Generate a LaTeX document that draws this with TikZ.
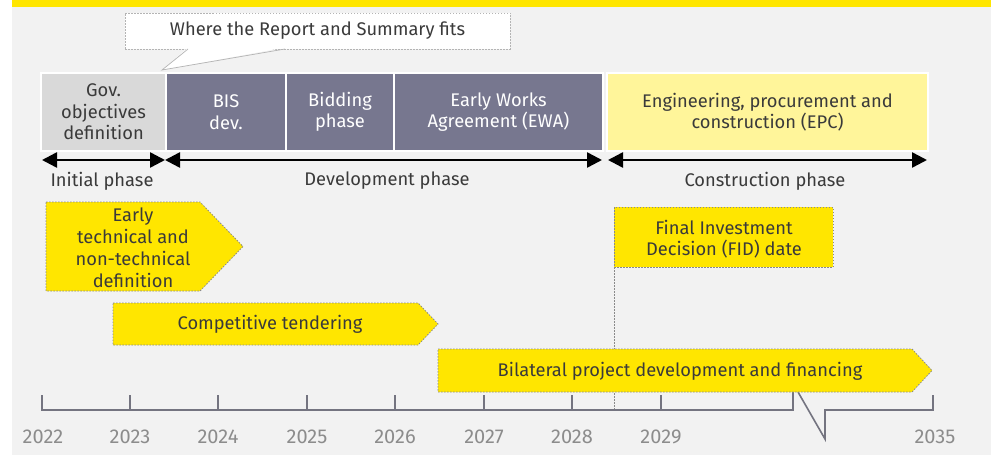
\documentclass[tikz,border=0pt]{standalone}
\usepackage{fontspec}
\setmainfont{Fira Sans}
\usetikzlibrary{arrows.meta}
\definecolor{eyyellow}{HTML}{FFE600}
\definecolor{bgcol}{HTML}{F2F2F2}
\definecolor{slate}{HTML}{77778F}
\definecolor{lightgov}{HTML}{D9D9D9}
\definecolor{epcyellow}{HTML}{FFF59A}
\definecolor{txtdark}{HTML}{3A3A3A}
\definecolor{axiscol}{HTML}{747480}
\definecolor{yearcol}{HTML}{8C8C8C}
\definecolor{dashcol}{HTML}{8A8A8A}
\definecolor{callgray}{HTML}{B4B4B4}
\begin{document}
\begin{tikzpicture}[x=1pt,y=-1pt,
  every node/.style={font=\fontsize{18.3}{21.5}\selectfont, text=txtdark, align=center, inner sep=0pt, outer sep=0pt},
  topbox/.style={anchor=north west, draw=white, line width=2pt, minimum height=78pt},
  ybox/.style={fill=eyyellow, draw=dashcol, line width=0.8pt, dash pattern=on 1.5pt off 1.5pt},
  dashln/.style={draw=dashcol, line width=0.8pt, dash pattern=on 1.5pt off 1.5pt},
  phasearr/.style={line width=2.5pt, {Triangle[length=15pt,width=15pt]}-{Triangle[length=15pt,width=15pt]}},
  axisline/.style={draw=axiscol, line width=2pt},
  year/.style={text=yearcol, font=\fontsize{20}{22}\selectfont}]
\useasboundingbox (0,0) rectangle (991,455);
\fill[white] (0,0) rectangle (991,455);
\fill[bgcol] (12,7) rectangle (991,455);
\fill[eyyellow] (12,0) rectangle (991,7);

% callout
\node[draw=callgray, line width=0.7pt, dash pattern=on 1.5pt off 1.5pt, fill=white, anchor=north west, minimum width=385pt, minimum height=36pt] (callout) at (125,13) {};
\coordinate (tl) at (188,49);
\coordinate (tip) at (162,70);
\coordinate (tr) at (285,49);
\fill[white] (188,47.5) -- (tip) -- (285,47.5) -- cycle;
\draw[callgray, line width=0.7pt] (tl) -- (tip) -- (tr);
\node (calltxt) at (317.5,31) {Where the Report and Summary fits};

% top boxes
\node[topbox, fill=lightgov, minimum width=125pt] (gov) at (41,73) {Gov.\\objectives\\definition};
\node[topbox, fill=slate, text=white, minimum width=120pt] (bis) at (166,73) {BIS\\dev.};
\node[topbox, fill=slate, text=white, minimum width=108pt] (bid) at (286,73) {Bidding\\phase};
\node[topbox, fill=slate, text=white, minimum width=209pt] (ewa) at (394,73) {Early Works\\Agreement (EWA)};
\node[topbox, fill=epcyellow, minimum width=321pt] (epc) at (607,73) {Engineering, procurement and\\construction (EPC)};

% phase arrows
\coordinate (i1) at (42,160);
\coordinate (i2) at (165,160);
\coordinate (d1) at (165,160);
\coordinate (d2) at (602,160);
\coordinate (c1) at (608,160);
\coordinate (c2) at (927,160);
\draw[phasearr] (i1) -- (i2);
\draw[phasearr] (d1) -- (d2);
\draw[phasearr] (c1) -- (c2);
\node (initlab) at (102,181) {Initial phase};
\node (devlab) at (387,181) {Development phase};
\node (conlab) at (765,181) {Construction phase};

% FID
\node[ybox, anchor=north west, minimum width=219pt, minimum height=60pt] (fid) at (614,207) {};
\node (fidtxt) at (724,239) {Final Investment\\Decision (FID) date};
\coordinate (fidfoot) at (614,410);
\draw[dashln] (fid.south west) -- (fidfoot);

% axis
\draw[axisline] (42,395) -- (42,410) -- (793,410) -- (793,392);
\draw[axisline, line width=1.6pt] (798,392) -- (825,439) -- (825,410) -- (933,410) -- (933,395);
\foreach \xx in {130,218,307,395,484,572,661} \draw[axisline] (\xx,395) -- (\xx,410);
\node[year] (y22) at (43,437) {2022};
\node[year] (y23) at (130,437) {2023};
\node[year] (y24) at (218,437) {2024};
\node[year] (y25) at (307,437) {2025};
\node[year] (y26) at (395,437) {2026};
\node[year] (y27) at (484,437) {2027};
\node[year] (y28) at (572,437) {2028};
\node[year] (y29) at (661,437) {2029};
\node[year] (y35) at (935,437) {2035};

% yellow arrows
\draw[ybox] (46,202) -- (200,202) -- (243,246.5) -- (200,291) -- (46,291) -- cycle;
\node[font=\fontsize{18.3}{22}\selectfont] (early) at (133,247.5) {Early\\technical and\\non-technical\\definition};
\draw[ybox] (113,303) -- (418,303) -- (438,324) -- (418,345) -- (113,345) -- cycle;
\node (comp) at (270,324) {Competitive tendering};
\draw[ybox] (438,349) -- (912,349) -- (932,370.5) -- (912,392) -- (438,392) -- cycle;
\node (bilat) at (680,371) {Bilateral project development and financing};
\end{tikzpicture}
\end{document}
